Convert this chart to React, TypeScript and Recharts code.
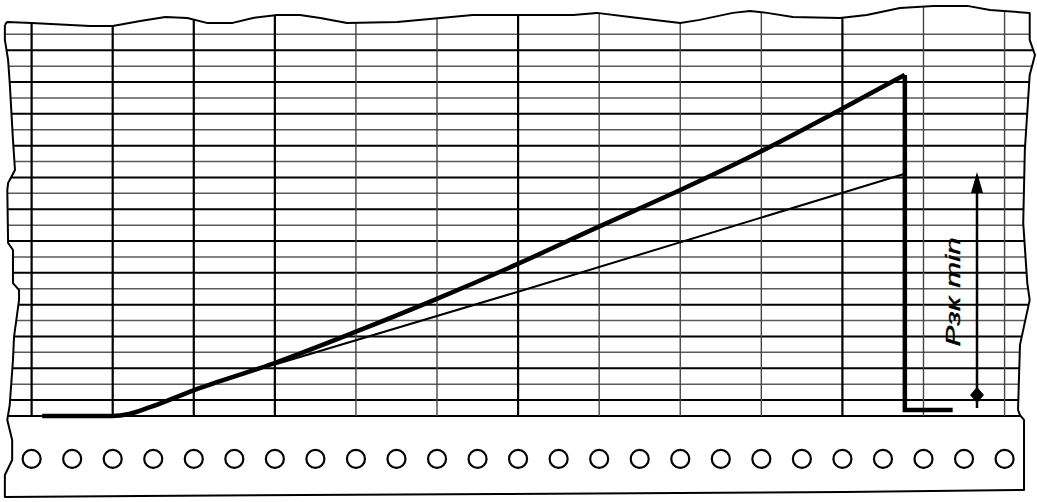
import React from 'react';
import { ComposedChart, XAxis, YAxis, Line, Scatter } from 'recharts';

const CHART_W = 1037;
const CHART_H = 502;

// chart-paper divisions (u = time divisions, v = pressure divisions)
const X_DOMAIN: [number, number] = [-0.39, 12.4];
const Y_DOMAIN: [number, number] = [-5.41, 26.16];

const columnIndices = [0, 1, 2, 3, 4, 5, 6, 7, 8, 9, 10, 11, 12];
const rowIndices = [0, 1, 2, 3, 4, 5, 6, 7, 8, 9, 10, 11, 12, 13, 14, 15, 16, 17, 18, 19, 20, 21, 22, 23, 24];
const boldColumns = [0, 1, 2, 3, 6, 10];

// torn paper edges
const topEdge = [
  { u: -0.33, v: 24.59 }, { u: -0.3, v: 24.78 }, { u: 0.0, v: 24.72 }, { u: 0.72, v: 24.53 },
  { u: 1.0, v: 24.53 }, { u: 1.34, v: 24.84 }, { u: 1.65, v: 25.09 }, { u: 1.92, v: 25.03 },
  { u: 2.16, v: 24.72 }, { u: 2.48, v: 24.72 }, { u: 2.73, v: 25.03 }, { u: 3.03, v: 25.22 },
  { u: 3.31, v: 25.22 }, { u: 3.56, v: 25.03 }, { u: 3.89, v: 24.72 }, { u: 4.51, v: 24.78 },
  { u: 4.91, v: 24.97 }, { u: 5.44, v: 25.22 }, { u: 5.99, v: 25.22 }, { u: 6.68, v: 25.22 },
  { u: 6.97, v: 25.35 }, { u: 7.38, v: 25.09 }, { u: 7.79, v: 24.84 }, { u: 8.0, v: 24.72 },
  { u: 8.24, v: 24.91 }, { u: 8.65, v: 25.35 }, { u: 8.86, v: 25.47 }, { u: 9.07, v: 25.35 },
  { u: 9.39, v: 25.09 }, { u: 9.97, v: 25.03 }, { u: 10.3, v: 25.22 }, { u: 10.71, v: 25.66 },
  { u: 11.12, v: 25.79 }, { u: 11.54, v: 25.79 }, { u: 11.82, v: 25.53 }, { u: 12.31, v: 25.35 },
];
const rightEdge = [
  { u: 12.31, v: 25.35 }, { u: 12.31, v: 23.65 }, { u: 12.375, v: 22.7 }, { u: 12.31, v: 21.45 },
  { u: 12.29, v: 19.87 }, { u: 12.25, v: 16.73 }, { u: 12.23, v: 12.14 }, { u: 12.28, v: 8.36 },
  { u: 12.31, v: 7.3 }, { u: 12.19, v: 4.47 }, { u: 12.166, v: 0.38 }, { u: 12.19, v: 0.06 },
  { u: 12.24, v: -0.25 }, { u: 12.24, v: -4.65 },
];
const bottomEdge = [
  { u: 12.24, v: -4.65 }, { u: 10.02, v: -4.78 }, { u: 5.78, v: -4.91 }, { u: 1.34, v: -5.03 },
  { u: -0.33, v: -5.09 },
];
const leftEdge = [
  { u: -0.33, v: -5.09 }, { u: -0.33, v: -3.71 }, { u: -0.24, v: -2.77 }, { u: -0.24, v: -1.51 },
  { u: -0.3, v: -0.25 }, { u: -0.27, v: 0.69 }, { u: -0.23, v: 3.52 }, { u: -0.217, v: 4.97 },
  { u: -0.155, v: 7.3 }, { u: -0.155, v: 7.92 }, { u: -0.23, v: 8.36 }, { u: -0.23, v: 10.44 },
  { u: -0.29, v: 10.88 }, { u: -0.3, v: 14.21 }, { u: -0.29, v: 14.65 }, { u: -0.205, v: 15.47 },
  { u: -0.23, v: 17.36 }, { u: -0.27, v: 20.94 }, { u: -0.29, v: 22.39 }, { u: -0.33, v: 23.65 },
  { u: -0.33, v: 24.59 },
];

// recorded traces
const boldCurve = [
  { u: 0.13, v: 0 }, { u: 1.0, v: 0 }, { u: 1.2, v: 0.12 }, { u: 1.46, v: 0.55 },
  { u: 1.99, v: 1.6 }, { u: 2.98, v: 3.3 }, { u: 4.0, v: 5.3 }, { u: 4.99, v: 7.35 },
  { u: 5.99, v: 9.55 }, { u: 6.99, v: 11.89 }, { u: 8.0, v: 14.21 }, { u: 8.98, v: 16.6 },
  { u: 9.99, v: 19.3 }, { u: 10.77, v: 21.45 },
];
const boldDrop = [
  { u: 10.77, v: 21.45 }, { u: 10.77, v: 0.38 }, { u: 11.36, v: 0.38 },
];
const thinLine = [
  { u: 2.98, v: 3.21 }, { u: 5.99, v: 7.8 }, { u: 10.75, v: 15.2 },
];

// sprocket holes
const holeColumns = [0, 0.5, 1, 1.5, 2, 2.5, 3, 3.5, 4, 4.5, 5, 5.5, 6, 6.5, 7, 7.5, 8, 8.5, 9, 9.5, 10, 10.5, 11, 11.5, 12];
const holeRow = -2.7;

// annotation
const arrowShaft = [{ u: 11.66, v: 0.5 }, { u: 11.66, v: 15.0 }];
const arrowTip = [{ u: 11.66, v: 15.35 }];
const arrowBase = [{ u: 11.66, v: 1.32 }];
const labelText = 'Рзк min';
const labelPos = [{ u: 11.45, v: 7.8 }];

type P = { u: number; v: number };

function interp(points: P[], key: 'u' | 'v', target: number, other: 'u' | 'v'): number {
  for (let i = 0; i < points.length - 1; i++) {
    const a = points[i][key];
    const b = points[i + 1][key];
    if (a !== b && (target - a) * (target - b) <= 0) {
      const t = (target - a) / (b - a);
      return points[i][other] + t * (points[i + 1][other] - points[i][other]);
    }
  }
  return points[0][other];
}

const outline = [...topEdge, ...rightEdge.slice(1), ...bottomEdge.slice(1), ...leftEdge.slice(1)];
const holes = holeColumns.map((u) => ({ u, v: holeRow }));

const horizontalLines = rowIndices.map((v) => [
  { u: interp(leftEdge, 'v', v, 'u'), v },
  { u: interp(rightEdge, 'v', v, 'u'), v },
]);
const verticalLines = columnIndices.map((u) => [
  { u, v: 0 },
  { u, v: interp(topEdge, 'u', u, 'v') },
]);

const HoleShape = (p: any) => (
  <circle cx={p.cx} cy={p.cy} r={9} fill="#fff" stroke="#000" strokeWidth={2.2} />
);
const TipShape = (p: any) => (
  <polygon points={`${p.cx},${p.cy} ${p.cx - 6},${p.cy + 21} ${p.cx + 6},${p.cy + 21}`} fill="#000" />
);
const BaseShape = (p: any) => (
  <polygon points={`${p.cx},${p.cy - 8} ${p.cx + 7},${p.cy} ${p.cx},${p.cy + 8} ${p.cx - 7},${p.cy}`} fill="#000" />
);
const LabelShape = (p: any) => (
  <text
    x={p.cx}
    y={p.cy}
    transform={`rotate(-90 ${p.cx} ${p.cy})`}
    textAnchor="middle"
    fontFamily="'Liberation Sans', Arial, sans-serif"
    fontStyle="italic"
    fontSize={21}
    textLength={109}
    lengthAdjust="spacingAndGlyphs"
    fill="#000"
    stroke="#000"
    strokeWidth={0.4}
  >
    {labelText}
  </text>
);

export default function App() {
  return (
    <div style={{ position: 'absolute', left: 0, top: 0, width: CHART_W, height: CHART_H, background: '#fff' }}>
      <ComposedChart width={CHART_W} height={CHART_H} margin={{ top: 0, right: 0, bottom: 0, left: 0 }}>
        <XAxis dataKey="u" type="number" domain={X_DOMAIN} allowDataOverflow hide />
        <YAxis dataKey="v" type="number" domain={Y_DOMAIN} allowDataOverflow hide />
        {horizontalLines.map((seg, i) => (
          <Line
            key={`h${i}`}
            data={seg}
            dataKey="v"
            type="linear"
            dot={false}
            activeDot={false}
            isAnimationActive={false}
            stroke={rowIndices[i] % 2 === 1 || rowIndices[i] === 0 ? '#000' : '#5a5a5a'}
            strokeWidth={rowIndices[i] % 2 === 1 || rowIndices[i] === 0 ? 2 : 1.5}
          />
        ))}
        {verticalLines.map((seg, i) => (
          <Line
            key={`v${i}`}
            data={seg}
            dataKey="v"
            type="linear"
            dot={false}
            activeDot={false}
            isAnimationActive={false}
            stroke={boldColumns.includes(columnIndices[i]) ? '#000' : '#444'}
            strokeWidth={boldColumns.includes(columnIndices[i]) ? 2.2 : 1.4}
          />
        ))}
        <Line data={outline} dataKey="v" type="linear" dot={false} activeDot={false} isAnimationActive={false} stroke="#000" strokeWidth={2} strokeLinejoin="round" />
        <Line data={thinLine} dataKey="v" type="linear" dot={false} activeDot={false} isAnimationActive={false} stroke="#000" strokeWidth={2} />
        <Line data={boldCurve} dataKey="v" type="monotone" dot={false} activeDot={false} isAnimationActive={false} stroke="#000" strokeWidth={4.5} strokeLinejoin="round" />
        <Line data={boldDrop} dataKey="v" type="linear" dot={false} activeDot={false} isAnimationActive={false} stroke="#000" strokeWidth={4.5} strokeLinejoin="miter" />
        <Line data={arrowShaft} dataKey="v" type="linear" dot={false} activeDot={false} isAnimationActive={false} stroke="#000" strokeWidth={2.5} />
        <Scatter data={arrowTip} dataKey="v" shape={TipShape} isAnimationActive={false} />
        <Scatter data={arrowBase} dataKey="v" shape={BaseShape} isAnimationActive={false} />
        <Scatter data={holes} dataKey="v" shape={HoleShape} isAnimationActive={false} />
        <Scatter data={labelPos} dataKey="v" shape={LabelShape} isAnimationActive={false} />
      </ComposedChart>
    </div>
  );
}
